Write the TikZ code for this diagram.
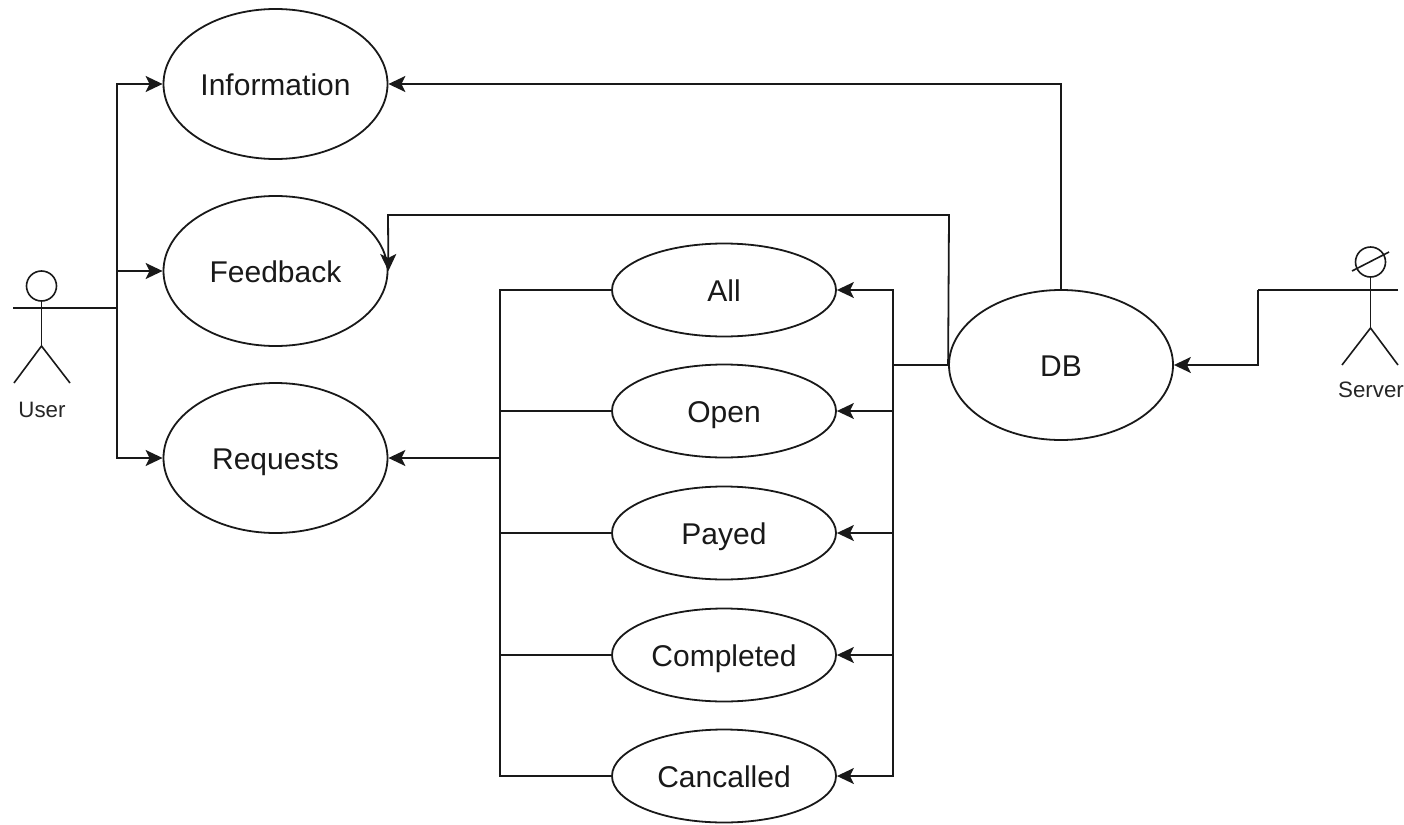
\documentclass[tikz,border=0pt]{standalone}
\usepackage{fontspec}
\setmainfont{Liberation Sans}
\usetikzlibrary{shapes.geometric,arrows.meta}
\tikzset{
  bigoval/.style={draw=black!90,line width=1.8pt,ellipse,inner sep=0pt,minimum width=224pt,minimum height=150pt,font=\fontsize{30}{32}\selectfont,text=black!90,text height=23.5pt,text depth=0pt},
  smalloval/.style={draw=black!90,line width=1.8pt,ellipse,inner sep=0pt,minimum width=224pt,minimum height=93pt,font=\fontsize{30}{32}\selectfont,text=black!90,text height=23.5pt,text depth=0pt},
  conn/.style={draw=black!90,line width=1.8pt},
  arrowconn/.style={conn,-{Stealth[length=17pt,width=16pt,inset=4pt]}},
  actorhead/.style={draw=black!90,line width=1.6pt,circle,inner sep=0pt,minimum size=30pt},
  limb/.style={draw=black!90,line width=1.6pt},
  actorlabel/.style={font=\fontsize{22.3}{24}\selectfont,text=black!85,inner sep=0pt}
}
\begin{document}
\begin{tikzpicture}[x=1pt,y=-1pt]
\useasboundingbox (0,0) rectangle (1404,824);
% ovals
\node[bigoval] (info) at (275.5,84) {Information};
\node[bigoval] (feed) at (275.5,271) {Feedback};
\node[bigoval] (req) at (275.5,458) {Requests};
\node[bigoval] (db) at (1061,365) {DB};
\node[smalloval] (all) at (724,290) {All};
\node[smalloval] (open) at (724,411) {Open};
\node[smalloval] (payed) at (724,533) {Payed};
\node[smalloval] (comp) at (724,655) {Completed};
\node[smalloval] (canc) at (724,776) {Cancalled};
% user actor
\node[actorhead] (uhead) at (41.5,286) {};
\coordinate (uarmL) at (13,308);
\coordinate (ubody) at (41.5,346);
\coordinate (ulegL) at (14,383);
\coordinate (ulegR) at (70,383);
\coordinate (ubus) at (117,308);
\draw[limb] (uhead.south) -- (ubody);
\draw[limb] (ulegL) -- (ubody) -- (ulegR);
\draw[conn] (uarmL) -- (ubus);
\node[actorlabel] (ulabel) at (42,410) {User};
% server actor
\node[actorhead] (shead) at (1370.5,262) {};
\coordinate (sarmR) at (1398,290);
\coordinate (sbody) at (1370.5,328);
\coordinate (slegL) at (1342,365);
\coordinate (slegR) at (1398,365);
\coordinate (sslashA) at (1352,271);
\coordinate (sslashB) at (1389,252);
\coordinate (sbend) at (1258,290);
\draw[limb] (shead.south) -- (sbody);
\draw[limb] (slegL) -- (sbody) -- (slegR);
\draw[limb] (sslashA) -- (sslashB);
\draw[conn] (sarmR) -- (sbend);
\node[actorlabel,anchor=west] (slabel) at (1338,390) {Server};
% user connectors
\draw[arrowconn] (ubus) |- (info.west);
\draw[arrowconn] (ubus) |- (feed.west);
\draw[arrowconn] (ubus) |- (req.west);
% server to DB
\draw[arrowconn] (sbend) |- (db.east);
% DB to info, feedback
\draw[arrowconn] (db.north) |- (info.east);
\coordinate (fbtop) at (949,215);
\coordinate (fbtopL) at (388,215);
\draw[arrowconn] (db.west) -- (fbtop) -- (fbtopL) -- (feed.east);
% DB to statuses
\coordinate (dbus) at (893,365);
\draw[conn] (db.west) -- (dbus);
\foreach \n in {all,open,payed,comp,canc}{
  \draw[arrowconn] (dbus) |- (\n.east);
}
% statuses to requests
\coordinate (rbus) at (500,458);
\foreach \n in {all,open,payed,comp,canc}{
  \draw[conn] (\n.west) -| (rbus);
}
\draw[arrowconn] (rbus) -- (req.east);
\end{tikzpicture}
\end{document}
